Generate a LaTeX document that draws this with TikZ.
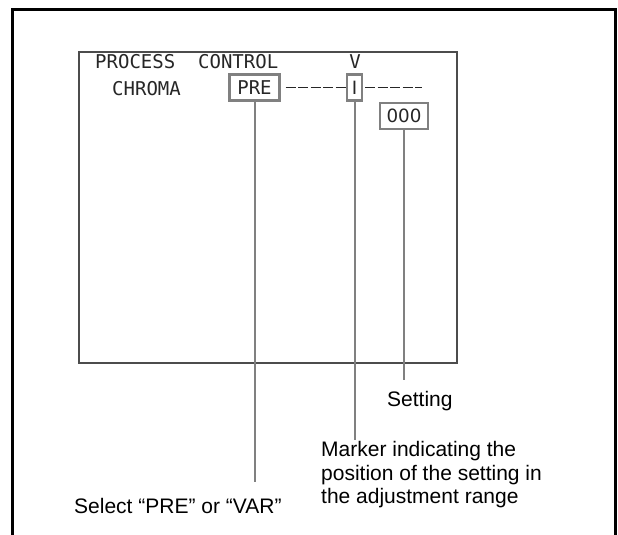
\documentclass[tikz,border=0pt]{standalone}
\usepackage{fontspec}
\setmainfont{Liberation Sans}
\newfontfamily\osdfont{DejaVu Sans Mono}
\newfontfamily\barfont{DejaVu Sans}
\usetikzlibrary{positioning}

\begin{document}
\begin{tikzpicture}[x=1pt, y=-1pt,
  osd/.style={font=\osdfont\fontsize{19}{22}\selectfont, text=black!85, inner sep=0pt},
  selbox/.style={osd, draw=black!50, line width=2.2pt, minimum height=26pt},
  plainosd/.style={font=\barfont\fontsize{18.3}{22}\selectfont},
  leader/.style={draw=black!50, line width=2pt},
  lbl/.style={font=\fontsize{21}{23.5}\selectfont, inner sep=0pt, align=left}]
  \useasboundingbox (0,0) rectangle (618,535);
  \draw[line width=2.8pt] (12.5,535) -- (12.5,9.5) -- (615.5,9.5) -- (615.5,535);
  % monitor screen
  \node[draw=black!70, line width=1.3pt, minimum width=378pt, minimum height=311pt] (scr) at (268,207.5) {};
  \node[osd, anchor=base west] (title) at (95,68.3) {PROCESS\ \ CONTROL};
  \node[osd, anchor=base] (vmode) at (355,68.3) {V};
  \node[osd, anchor=base west] (chroma) at (112,95.5) {CHROMA};
  \node[selbox, minimum width=50pt] (pre) at (254.5,87.5) {PRE};
  \node[selbox, plainosd, minimum width=15pt] (mark) at (354.5,87.5) {I};
  \node[selbox, plainosd, minimum width=48pt] (val) at (404,116) {000};
  \coordinate (scaleend) at (422,88);
  \draw[black!85, line width=1.4pt, dash pattern=on 10pt off 2.5pt] ([xshift=5pt]pre.east) -- (mark.west);
  \draw[black!85, line width=1.4pt, dash pattern=on 10pt off 2.5pt, dash phase=10.5pt] (mark.east) -- (mark.east -| scaleend);
  % callouts
  \node[lbl, anchor=base west] (setting) at (387,406) {Setting};
  \node[lbl, anchor=north west] (marker) at (321,441.5) {Marker indicating the\\position of the setting in\\the adjustment range};
  \node[lbl, anchor=base west] (select) at (74,513) {Select “PRE” or “VAR”};
  \draw[leader] (val.south) -- ([yshift=26pt]val.south |- setting.base);
  \draw[leader] (mark.south) -- ([yshift=1.5pt]mark.south |- marker.north);
  \draw[leader] (pre.south) -- ([yshift=31pt]pre.south |- select.base);
\end{tikzpicture}
\end{document}
